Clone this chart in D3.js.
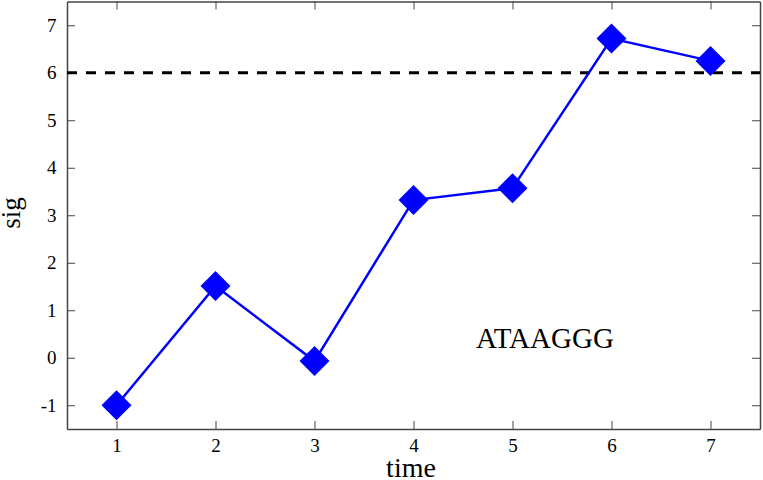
<!DOCTYPE html>
<html><head><meta charset="utf-8">
<script src="https://cdn.jsdelivr.net/npm/d3@7"></script>
<style>body{margin:0;background:#fff}svg{display:block}text{font-family:"Liberation Serif","Times New Roman",serif}</style>
</head><body>
<script>
const times = [1, 2, 3, 4, 5, 6, 7];
const sigValues = [-1.0, 1.51, -0.07, 3.32, 3.57, 6.72, 6.25];
const xTicks = [1, 2, 3, 4, 5, 6, 7];
const yTicks = [-1, 0, 1, 2, 3, 4, 5, 6, 7];
const threshold = 6;
const annotation = "ATAAGGG";

const W = 763, H = 480;
const m = {left: 67, right: 3, top: 1.5, bottom: 51};
const svg = d3.select("body").append("svg").attr("width", W).attr("height", H);
const x = d3.scaleLinear().domain([0.5, 7.5]).range([m.left, W - m.right]);
const y = d3.scaleLinear().domain([-1.5, 7.5]).range([H - m.bottom, m.top]);
const frame = "#444";
const tl = 8;
const fmt = d => String(d);

const gx = svg.append("g").attr("transform", `translate(0,${H - m.bottom})`)
  .call(d3.axisBottom(x).tickValues(xTicks).tickSizeInner(-tl).tickSizeOuter(0).tickPadding(10).tickFormat(fmt));
const gxt = svg.append("g").attr("transform", `translate(0,${m.top})`)
  .call(d3.axisTop(x).tickValues(xTicks).tickSizeInner(-tl).tickSizeOuter(0).tickFormat(""));
const gy = svg.append("g").attr("transform", `translate(${m.left},0)`)
  .call(d3.axisLeft(y).tickValues(yTicks).tickSizeInner(-tl).tickSizeOuter(0).tickPadding(10.5).tickFormat(fmt));
const gyr = svg.append("g").attr("transform", `translate(${W - m.right},0)`)
  .call(d3.axisRight(y).tickValues(yTicks).tickSizeInner(-tl).tickSizeOuter(0).tickFormat(""));
[gx, gxt, gy, gyr].forEach(g => {
  g.select(".domain").attr("stroke", frame).attr("stroke-width", 1.5);
  g.selectAll(".tick line").attr("stroke", frame).attr("stroke-width", 1);
  g.selectAll(".tick text").attr("font-family", '"Liberation Serif",serif').attr("font-size", 19).attr("fill", "#000");
});

svg.append("line").attr("x1", x(0.5)).attr("x2", x(7.5)).attr("y1", y(threshold)).attr("y2", y(threshold))
  .attr("stroke", "#000").attr("stroke-width", 3).attr("stroke-dasharray", "10,9");

svg.append("path").datum(times.map((t, i) => [t, sigValues[i]]))
  .attr("fill", "none").attr("stroke", "#0000ff").attr("stroke-width", 2.5)
  .attr("d", d3.line().x(d => x(d[0])).y(d => y(d[1])));

const s = 15;
svg.selectAll("path.pt").data(times.map((t, i) => [t, sigValues[i]])).enter().append("path").attr("class", "pt")
  .attr("fill", "#0000ff")
  .attr("d", d => `M${x(d[0])},${y(d[1]) - s}L${x(d[0]) + s},${y(d[1])}L${x(d[0])},${y(d[1]) + s}L${x(d[0]) - s},${y(d[1])}Z`);

svg.append("text").attr("x", 476).attr("y", 348).attr("font-size", 29).text(annotation);
svg.append("text").attr("x", 411).attr("y", 477).attr("text-anchor", "middle").attr("font-size", 28).text("time");
svg.append("text").attr("transform", `translate(20,213) rotate(-90)`).attr("text-anchor", "middle").attr("font-size", 27).text("sig");
</script>
</body></html>
